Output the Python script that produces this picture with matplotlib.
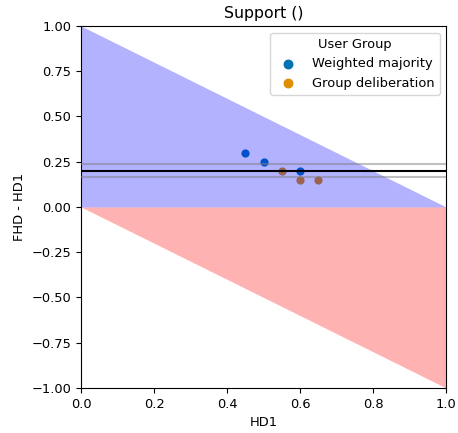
import matplotlib.pyplot as plt
import numpy as np

# data
wm_x = [0.45, 0.50, 0.60]
wm_y = [0.30, 0.25, 0.20]
gd_x = [0.55, 0.60, 0.65]
gd_y = [0.20, 0.15, 0.15]
mean_line = 0.20
band = [0.165, 0.235]

colors = ['#0173b2', '#de8f05']

plt.rcParams['font.size'] = 9.4

fig, ax = plt.subplots(figsize=(4.58, 4.33), dpi=100)

ax.scatter(wm_x, wm_y, color=colors[0], s=24, label='Weighted majority', zorder=1)
ax.scatter(gd_x, gd_y, color=colors[1], s=24, label='Group deliberation', zorder=1)

xs = np.array([0.0, 1.0])
ax.fill_between(xs, 0, 1 - xs, color='blue', alpha=0.3, lw=0, zorder=2)
ax.fill_between(xs, -xs, 0, color='red', alpha=0.3, lw=0, zorder=2)

ax.axhline(mean_line, color='black', lw=1.5, zorder=3)
for b in band:
    ax.axhline(b, color='gray', lw=1.5, alpha=0.5, zorder=3)

ax.set_xlim(0, 1)
ax.set_ylim(-1, 1)
ax.set_xlabel('HD1')
ax.set_ylabel('FHD - HD1')
ax.set_title('Support ()', fontsize=11.3)
ax.legend(title='User Group', loc='upper right', markerscale=1.25)

fig.subplots_adjust(left=0.177, right=0.974, top=0.94, bottom=0.104)
fig.savefig('out.png')
